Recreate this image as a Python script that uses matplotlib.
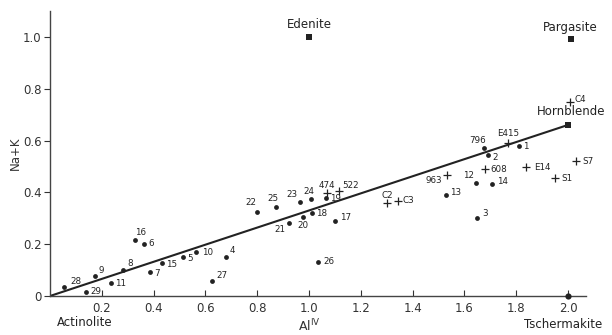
import matplotlib
matplotlib.use("Agg")
import matplotlib.pyplot as plt

# ---- data ----
dot_names = ["28", "29", "9", "11", "8", "16", "6", "7", "15", "5", "10", "27", "4",
             "22", "25", "23", "24", "19", "21", "20", "18", "17", "26",
             "13", "12", "14", "3", "796", "2", "1"]
dot_x = [0.055, 0.138, 0.174, 0.234, 0.281, 0.328, 0.364, 0.386, 0.431, 0.515, 0.564, 0.624, 0.680,
         0.798, 0.873, 0.965, 1.006, 1.066, 0.924, 0.978, 1.010, 1.102, 1.036,
         1.529, 1.644, 1.705, 1.650, 1.677, 1.690, 1.812]
dot_y = [0.036, 0.017, 0.077, 0.049, 0.100, 0.216, 0.201, 0.094, 0.126, 0.152, 0.169, 0.059, 0.152,
         0.326, 0.342, 0.362, 0.373, 0.377, 0.283, 0.306, 0.319, 0.290, 0.130,
         0.390, 0.435, 0.432, 0.302, 0.570, 0.544, 0.577]

plus_names = ["474", "522", "C2", "C3", "963", "608", "E415", "E14", "S1", "S7", "C4"]
plus_x = [1.068, 1.117, 1.302, 1.345, 1.532, 1.680, 1.770, 1.837, 1.950, 2.031, 2.008]
plus_y = [0.397, 0.405, 0.358, 0.367, 0.467, 0.490, 0.590, 0.496, 0.454, 0.519, 0.748]

end_names = ["Edenite", "Pargasite", "Hornblende", "Tschermakite", "Actinolite"]
end_x = [1.0, 2.01, 2.0, 2.0, 0.0]
end_y = [1.0, 0.99, 0.66, 0.0, 0.0]

trend_x = [0.0, 2.0]
trend_y = [0.0, 0.66]

x_ticks = [0.2, 0.4, 0.6, 0.8, 1.0, 1.2, 1.4, 1.6, 1.8, 2.0]
x_ticklabels = ["0.2", "0.4", "0.6", "0.8", "1.0", "1.2", "1.4", "1.6", "1.8", "2.0"]
y_ticks = [0, 0.2, 0.4, 0.6, 0.8, 1.0]
y_ticklabels = ["0", "0.2", "0.4", "0.6", "0.8", "1.0"]

# ---- label offsets (pixels, +x right, +y up) ----
dot_off = {"28": (12, 5), "29": (10, 0), "9": (6, 6), "11": (10, 0), "8": (7, 7),
           "16": (6, 8), "6": (7, 0), "7": (7, -2), "15": (10, -1), "5": (7, -2),
           "10": (12, 0), "27": (10, 5), "4": (6, 6), "22": (-6, 9), "25": (-3, 9),
           "23": (-8, 8), "24": (-2, 8), "19": (9, 0), "21": (-9, -7), "20": (0, -9),
           "18": (10, 0), "17": (10, 3), "26": (11, 1), "13": (10, 2), "12": (-7, 8),
           "14": (11, 3), "3": (8, 4), "796": (-7, 8), "2": (7, -2), "1": (6, 0)}
plus_off = {"474": (0, 8), "522": (11, 6), "C2": (0, 8), "C3": (10, 0), "963": (-13, -6),
            "608": (14, 0), "E415": (0, 10), "E14": (17, 0), "S1": (12, 0), "S7": (12, 0),
            "C4": (10, 3)}
end_off = {"Edenite": (0, 12), "Pargasite": (0, 12), "Hornblende": (3, 13),
           "Tschermakite": (-5, -28), "Actinolite": (35, -26)}

fig = plt.figure(figsize=(6.12, 3.35), dpi=100)
ax = fig.add_axes([0.0817, 0.1164, 0.876, 0.851])
ax.set_xlim(0, 2.07)
ax.set_ylim(0, 1.1)

ax.plot(trend_x, trend_y, color="#222222", lw=1.5, zorder=2)
ax.scatter(dot_x, dot_y, s=12, color="#222222", zorder=3, linewidths=0)
ax.scatter(plus_x, plus_y, s=30, marker="+", color="#222222", zorder=3, linewidths=0.9)
ax.scatter(end_x[:3], end_y[:3], s=14, marker="s", color="#222222", zorder=3, linewidths=0)
ax.scatter(end_x[3:4], end_y[3:4], s=20, color="#222222", zorder=3, linewidths=0, clip_on=False)

for n, x, y in zip(dot_names, dot_x, dot_y):
    dx, dy = dot_off[n]
    ax.annotate(n, (x, y), xytext=(dx, dy), textcoords="offset pixels",
                ha="center", va="center", fontsize=6.3, color="#222222")
for n, x, y in zip(plus_names, plus_x, plus_y):
    dx, dy = plus_off[n]
    ax.annotate(n, (x, y), xytext=(dx, dy), textcoords="offset pixels",
                ha="center", va="center", fontsize=6.3, color="#222222")
for n, x, y in zip(end_names, end_x, end_y):
    dx, dy = end_off[n]
    ax.annotate(n, (x, y), xytext=(dx, dy), textcoords="offset pixels",
                ha="center", va="center", fontsize=8.5, color="#222222",
                annotation_clip=False)

for s in ["top", "right"]:
    ax.spines[s].set_visible(False)
for s in ["left", "bottom"]:
    ax.spines[s].set_color("#444444")
    ax.spines[s].set_linewidth(1.0)

ax.set_xticks(x_ticks)
ax.set_xticklabels(x_ticklabels)
ax.set_yticks(y_ticks)
ax.set_yticklabels(y_ticklabels)
ax.tick_params(axis="x", direction="in", length=4, labelsize=8.5, colors="#333333", pad=4)
ax.tick_params(axis="y", direction="out", length=4, labelsize=8.5, colors="#333333", pad=2)

ax.set_ylabel("Na+K", fontsize=8.5, color="#333333", labelpad=1)
ax.text(1.0, -0.115, r"Al$^{\mathrm{IV}}$", ha="center", va="center", fontsize=9,
        color="#333333", transform=ax.transData, clip_on=False)

fig.savefig("out.png", dpi=100, facecolor="white")
